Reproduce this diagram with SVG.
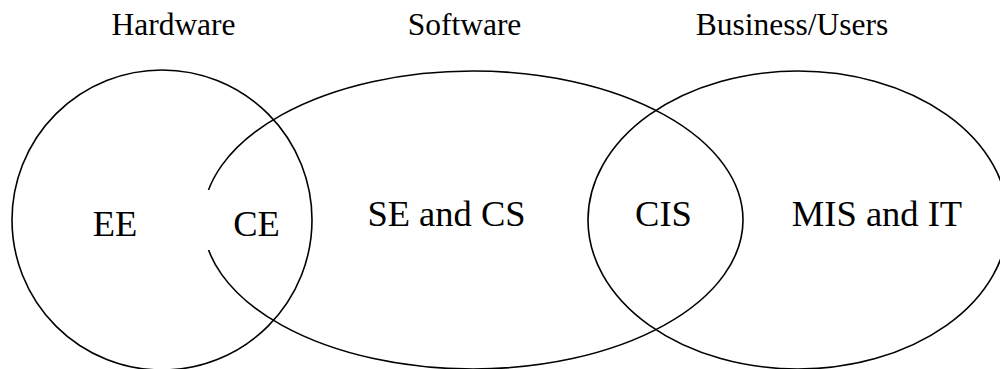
<svg xmlns="http://www.w3.org/2000/svg" width="1000" height="369" viewBox="0 0 1000 369">
<style>
.sh{fill:none;stroke:#000;stroke-width:1.6}
text{font-family:'Liberation Serif','Times New Roman','DejaVu Serif',serif;fill:#000;text-anchor:middle}
.hd{font-size:31.5px}
.lb{font-size:36.5px}
</style>
<rect width="1000" height="369" fill="#fff"/>
<g id="hardware">
<ellipse class="sh" cx="162" cy="220" rx="150" ry="150"/>
<text class="hd" x="173.5" y="35" font-family="Liberation Serif, serif">Hardware</text>
<text class="lb" x="115" y="236" font-family="Liberation Serif, serif">EE</text>
</g>
<g id="software">
<ellipse class="sh" cx="473" cy="220" rx="270" ry="149"/>
<text class="hd" x="464.5" y="35" font-family="Liberation Serif, serif">Software</text>
<text class="lb" x="446.5" y="226" font-family="Liberation Serif, serif">SE and CS</text>
</g>
<g id="business">
<ellipse class="sh" cx="798" cy="220" rx="210" ry="149"/>
<text class="hd" x="792" y="35" font-family="Liberation Serif, serif">Business/Users</text>
<text class="lb" x="877" y="226" font-family="Liberation Serif, serif">MIS and IT</text>
</g>
<g id="ce">
<rect x="192" y="190" width="100" height="60" fill="#fff"/>
<text class="lb" x="256.5" y="236" font-family="Liberation Serif, serif">CE</text>
</g>
<g id="cis">
<text class="lb" x="663.5" y="226" font-family="Liberation Serif, serif">CIS</text>
</g>
<g id="connectors"/>
</svg>
